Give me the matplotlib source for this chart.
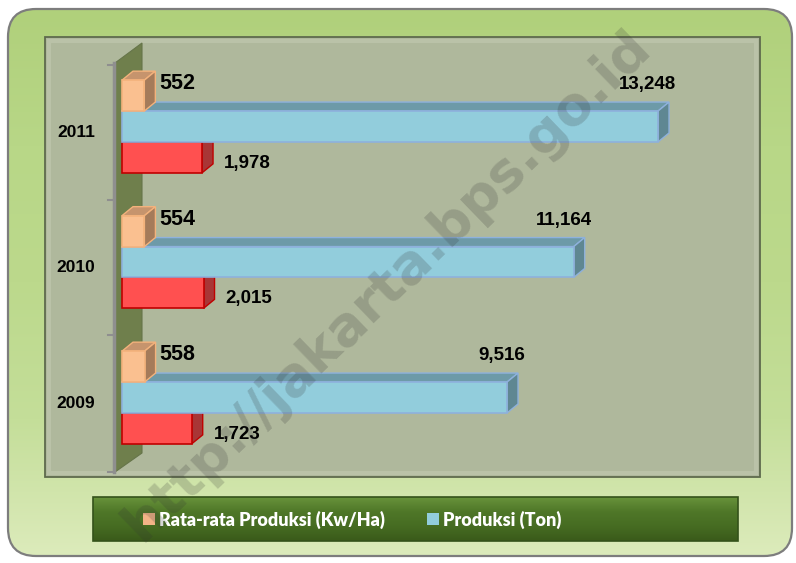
import numpy as np
import matplotlib
matplotlib.use("Agg")
from matplotlib import pyplot as plt
from matplotlib.patches import Rectangle, Polygon, FancyBboxPatch
from matplotlib.colors import LinearSegmentedColormap

# data
years = ["2009", "2010", "2011"]
rata_rata = [558, 554, 552]          # Rata-rata Produksi (Kw/Ha)
produksi = [9516, 11164, 13248]      # Produksi (Ton)
luas_panen = [1723, 2015, 1978]      # red series (no legend entry)

LAB = ["Liberation Sans", "DejaVu Sans"]
W, H = 796, 563

fig = plt.figure(figsize=(W / 100, H / 100), dpi=100)

# background in pixel coords
bg = fig.add_axes([0, 0, 1, 1])
bg.set_xlim(0, W)
bg.set_ylim(H, 0)
bg.axis("off")

frame = FancyBboxPatch((8, 9), 784, 547, boxstyle="round,pad=0,rounding_size=28",
                       fc="none", ec="#7d7d7d", lw=1.6, zorder=2)
bg.add_patch(frame)
grad = np.linspace(0, 1, 256).reshape(-1, 1)
cm_frame = LinearSegmentedColormap.from_list(
    "fr", ["#b0d07b", "#b8d787", "#bcd98c", "#c4de99", "#dcebbb"])
im = bg.imshow(grad, extent=(8, 792, 556, 9), cmap=cm_frame, aspect="auto", zorder=1)
im.set_clip_path(frame)

# plot panel
bg.add_patch(Rectangle((45, 37), 715, 440, fc="#afb89c", ec="#5e6a4d", lw=1.3, zorder=3))
bg.add_patch(Rectangle((49, 41), 707, 432, fill=False, ec="#bac2a8", lw=3, zorder=3))

# wall
bg.add_patch(Polygon([(115, 472), (115, 63), (142, 43), (142, 453)],
                     closed=True, fc="#6f7f4c", ec="#66754a", lw=0.8, zorder=4))
bg.plot([114, 114], [63, 472], color="#8f8f8f", lw=2.5, zorder=5)
for ty in [65, 200, 335, 472]:
    bg.plot([108, 114], [ty, ty], color="#8f8f8f", lw=1.5, zorder=5)

# legend box
leg = Rectangle((93, 497), 645, 44, fc="none", ec="#34521a", lw=1.2, zorder=6)
bg.add_patch(leg)
cm_leg = LinearSegmentedColormap.from_list("lg", ["#68933b", "#4f7728", "#466c22", "#3a5a1a"])
im2 = bg.imshow(grad, extent=(93, 738, 541, 497), cmap=cm_leg, aspect="auto", zorder=5)
im2.set_clip_path(leg)
bg.add_patch(Rectangle((143, 513), 12, 12, fc="#f2b487", ec="none", zorder=7))
bg.add_patch(Rectangle((427, 513), 12, 12, fc="#92cddc", ec="none", zorder=7))
bg.text(159, 519.5, "Rata-rata Produksi (Kw/Ha)", color="white", fontsize=13,
        fontweight=800, family=["Lato", "DejaVu Sans"], va="center", ha="left", zorder=8)
bg.text(443, 519.5, "Produksi (Ton)", color="white", fontsize=13,
        fontweight=800, family=["Lato", "DejaVu Sans"], va="center", ha="left", zorder=8)

# bar axes
xmax = 16000
ax_w_px = 647.4
ax = fig.add_axes([122 / W, (H - 465.25) / H, ax_w_px / W, 406.5 / H])
ax.set_xlim(0, xmax)
ax.set_ylim(-0.5, 2.5)
ax.axis("off")
ax.patch.set_alpha(0)

dx = 11 * xmax / ax_w_px
dy = 9 / 135.5
h = 0.228
ypos = np.arange(len(years))


def bar3d(y, v, front, top, side, edge, z):
    b, t = y - h / 2, y + h / 2
    ax.add_patch(Polygon([(0, t), (v, t), (v + dx, t + dy), (dx, t + dy)],
                         fc=top, ec=edge, lw=1, zorder=z, clip_on=False))
    ax.add_patch(Polygon([(v, b), (v, t), (v + dx, t + dy), (v + dx, b + dy)],
                         fc=side, ec=edge, lw=1, zorder=z, clip_on=False))
    ax.add_patch(Rectangle((0, b), v, h, fc=front, ec=edge, lw=1.2,
                           zorder=z + 0.5, clip_on=False))


for i, y in enumerate(ypos):
    bar3d(y - h, luas_panen[i], "#ff5050", "#c43c3c", "#a83636", "#c00000", 3)
    bar3d(y, produksi[i], "#92cddc", "#6d9aa8", "#5f8792", "#8eb1dc", 4)
    bar3d(y + h, rata_rata[i], "#fac090", "#c6946d", "#a57b5a", "#f3b27c", 5)

    ax.annotate(f"{rata_rata[i]:,}", xy=(rata_rata[i], y + h), xytext=(15 * 0.72, 12 * 0.72),
                textcoords="offset points", ha="left", va="center", fontsize=15.5,
                fontweight="bold", family=LAB, zorder=10)
    ax.annotate(f"{produksi[i]:,}", xy=(produksi[i], y), xytext=(18 * 0.72, 42 * 0.72),
                textcoords="offset points", ha="right", va="center", fontsize=13.5,
                fontweight="bold", family=LAB, zorder=10)
    ax.annotate(f"{luas_panen[i]:,}", xy=(luas_panen[i], y - h), xytext=(22 * 0.72, -6 * 0.72),
                textcoords="offset points", ha="left", va="center", fontsize=13.5,
                fontweight="bold", family=LAB, zorder=10)
    ax.annotate(years[i], xy=(-(122 - 76) / ax_w_px, y), xycoords=("axes fraction", "data"),
                xytext=(0, -6 * 0.72), textcoords="offset points", ha="center", va="center",
                fontsize=12.5, fontweight="bold", family=LAB)

# watermark
fig.text(387 / W, 1 - 286 / H, "http://jakarta.bps.go.id", rotation=44, ha="center",
         va="center", fontsize=39, fontweight="bold", color="#333333", alpha=0.2,
         family=["DejaVu Sans"], zorder=20)

fig.savefig("out.png", dpi=100)
